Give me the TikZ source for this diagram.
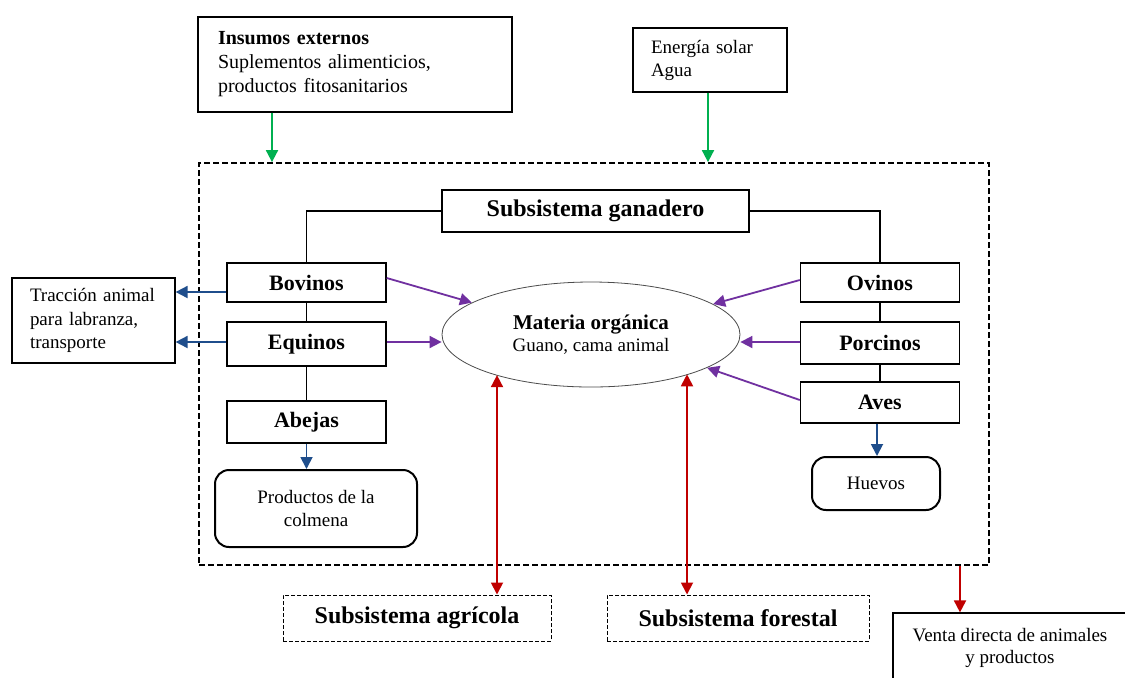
\documentclass[tikz,border=0pt]{standalone}
\usepackage{fontspec}
\setmainfont{Liberation Serif}
\usetikzlibrary{arrows.meta,shapes.geometric,calc}
\definecolor{cgreen}{RGB}{0,176,80}
\definecolor{cblue}{RGB}{31,78,140}
\definecolor{cpurple}{RGB}{112,48,160}
\definecolor{cred}{RGB}{192,0,0}
\tikzset{
  extbox/.style={draw, line width=0.6pt, inner sep=0pt, align=left},
  animbox/.style={draw, line width=0.7pt, minimum width=79.5pt, inner sep=0pt, font=\fontsize{11}{13}\selectfont\bfseries},
  prodbox/.style={draw, line width=1pt, rounded corners=7pt, inner sep=0pt, align=center, font=\fontsize{9.5}{11.5}\selectfont},
  subbox/.style={draw, line width=0.5pt, dash pattern=on 2pt off 1pt, inner sep=0pt, font=\fontsize{12}{14}\selectfont\bfseries},
  tip/.style={-{Triangle[length=6pt,width=6pt]}, line width=0.9pt},
  dtip/.style={{Triangle[length=6pt,width=6pt]}-{Triangle[length=6pt,width=6pt]}, line width=0.9pt},
  link/.style={line width=0.7pt}
}
\begin{document}
\begin{tikzpicture}[x=0.5pt,y=-0.5pt]
\useasboundingbox (0,0) rectangle (1125,677);
\clip (0,0) rectangle (1125,677);
\fill[white] (0,0) rectangle (1125,677);

% system boundary
\node[draw, line width=0.9pt, dash pattern=on 3pt off 1.5pt, minimum width=395pt, minimum height=201pt, inner sep=0pt] (sys) at (594,364) {};

% external inputs
\node[extbox, minimum width=157pt, minimum height=47.5pt, text width=137pt, font=\fontsize{10}{12}\selectfont] (ins) at (355,64.5)
  {\textbf{Insumos externos}\\Suplementos alimenticios,\\productos fitosanitarios};
\node[extbox, minimum width=77pt, minimum height=32pt, text width=59pt, font=\fontsize{9.5}{11.5}\selectfont] (ene) at (710,60)
  {Energía solar\\Agua};
\node[extbox, minimum width=81.5pt, minimum height=42.5pt, text width=63.5pt, font=\fontsize{9.5}{11.75}\selectfont] (tra) at (93.5,320.5)
  {Tracción animal\\para labranza,\\transporte};

% livestock subsystem
\node[draw, line width=0.7pt, minimum width=153.5pt, minimum height=21pt, inner sep=0pt, font=\fontsize{12}{14}\selectfont\bfseries] (gan) at (595.5,211) {Subsistema ganadero};
\node[animbox, minimum height=19.5pt] (bov) at (306.5,282.5) {Bovinos};
\node[animbox, minimum height=22pt] (equ) at (306.5,344) {Equinos};
\node[animbox, minimum height=21pt] (abe) at (306.5,422) {Abejas};
\node[animbox, minimum height=19.5pt] (ovi) at (880,282.5) {Ovinos};
\node[animbox, minimum height=21pt] (por) at (880,343) {Porcinos};
\node[animbox, minimum height=20.5pt] (ave) at (880,402.5) {Aves};

\node[prodbox, minimum width=101pt, minimum height=38.5pt] (col) at (316,508.5) {Productos de la\\colmena};
\node[prodbox, minimum width=64pt, minimum height=26.5pt] (hue) at (876,483.5) {Huevos};

\node[draw, ellipse, line width=0.4pt, draw=black!70, minimum width=149pt, minimum height=52.5pt, inner sep=0pt, align=center] (mat) at (591,334.5)
  {{\fontsize{10.5}{12}\selectfont\bfseries Materia orgánica}\\[-1pt]{\fontsize{9.5}{11.5}\selectfont Guano, cama animal}};

% other subsystems and outputs
\node[subbox, minimum width=134pt, minimum height=23pt] (agr) at (417,618) {Subsistema agrícola};
\node[subbox, minimum width=131pt, minimum height=23pt] (fore) at (738,618) {Subsistema forestal};
\node[extbox, minimum width=117pt, minimum height=35pt, align=center, font=\fontsize{9.5}{11}\selectfont] (ven) at (1010,648)
  {Venta directa de animales\\y productos};

% helper columns
\coordinate (cIns) at (272,0);
\coordinate (cEne) at (708,0);
\coordinate (cVen) at (960,0);
\coordinate (cAgr) at (497,0);
\coordinate (cFor) at (687,0);

% green inputs
\draw[tip, cgreen] (ins.south -| cIns) -- (sys.north -| cIns);
\draw[tip, cgreen] (ene.south -| cEne) -- (sys.north -| cEne);

% hierarchy lines
\draw[link] (gan.west) -| (bov.north);
\draw[link] (gan.east) -| (ovi.north);
\draw[link] (bov.south) -- (equ.north);
\draw[link] (equ.south) -- (abe.north);
\draw[link] (ovi.south) -- (por.north);
\draw[link] (por.south) -- (ave.north);

% blue products
\draw[tip, cblue] ([yshift=-4.75pt]bov.west) -- ([yshift=-4.75pt]bov.west -| tra.east);
\draw[tip, cblue] ([yshift=1pt]equ.west) -- ([yshift=1pt]equ.west -| tra.east);
\draw[tip, cblue] (abe.south) -- (abe.south |- col.north);
\draw[tip, cblue] ([xshift=-1.5pt]ave.south) -- ([xshift=-1.5pt]ave.south |- hue.north);

% purple to organic matter
\draw[tip, cpurple] ([yshift=2.25pt]bov.east) -- (mat.165);
\draw[tip, cpurple] ([yshift=1pt]equ.east) -- ([yshift=1pt]equ.east -| mat.west);
\draw[tip, cpurple] ([yshift=1.25pt]ovi.west) -- (mat.14);
\draw[tip, cpurple] ([yshift=0.5pt]por.west) -- ([yshift=0.5pt]por.west -| mat.east);
\draw[tip, cpurple] ([yshift=1.25pt]ave.west) -- (mat.-16.5);

% red exchanges
\draw[dtip, cred] (mat.203.8 -| cAgr) -- (agr.north -| cAgr);
\draw[dtip, cred] (mat.-22.7 -| cFor) -- (fore.north -| cFor);
\draw[tip, cred] (sys.south -| cVen) -- (ven.north -| cVen);
\end{tikzpicture}
\end{document}
